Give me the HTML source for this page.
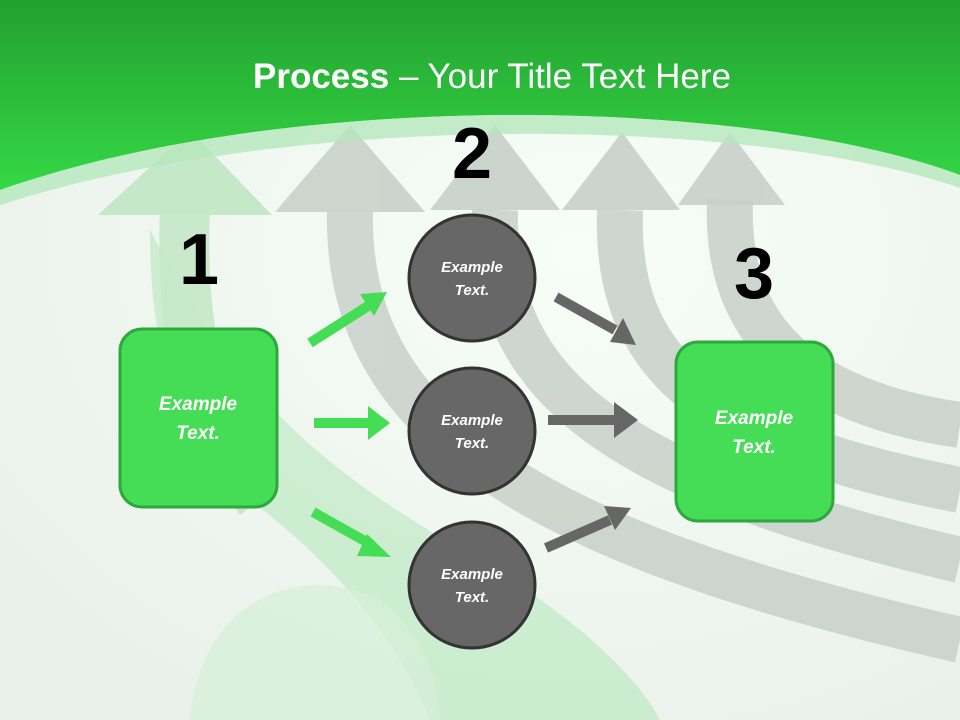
<!DOCTYPE html>
<html><head><style>body{margin:0}svg{display:block}text{font-family:"Liberation Sans",sans-serif}</style></head><body>
<svg width="960" height="720" viewBox="0 0 960 720" xmlns="http://www.w3.org/2000/svg">
<defs>
<linearGradient id="hg" x1="0" y1="0" x2="0" y2="1"><stop offset="0" stop-color="#22a030"/><stop offset="1" stop-color="#35d845"/></linearGradient>
<radialGradient id="bg" cx="0.6" cy="0.35" r="0.8"><stop offset="0" stop-color="#f7fdf7"/><stop offset="1" stop-color="#e9efe9"/></radialGradient>
</defs>
<rect width="960" height="720" fill="url(#bg)"/>
<path d="M150 230 C230 380 300 460 480 560 C580 620 640 680 660 720 L430 720 C400 640 330 560 250 500 C180 440 150 360 150 230Z" fill="#bfe9c4" opacity="0.7"/>
<path d="M190 720 C200 600 300 560 380 600 C420 630 440 680 440 720Z" fill="#d6f0d8" opacity="0.7"/>
<g fill="none" stroke="#c8d1c9" stroke-width="46" opacity="0.85">
<path d="M350 210 C345 420 520 540 960 640"/>
<path d="M495 210 C490 390 620 480 960 560"/>
<path d="M620 210 C615 360 700 440 960 490"/>
<path d="M730 200 C725 320 790 400 960 425"/>
</g>
<g fill="none" stroke="#c5e8c8" stroke-width="50" opacity="0.9">
<path d="M185 210 C180 330 200 420 260 500"/>
</g>
<g fill="#c8d1c9" opacity="0.9">
<polygon points="350,125 425,212 275,212"/>
<polygon points="495,125 560,210 430,210"/>
<polygon points="622,132 680,210 562,210"/>
<polygon points="730,132 785,205 678,205"/>
</g>
<polygon points="190,130 272,215 98,215" fill="#c5e8c8"/>
<path d="M0 0 H960 V175 C760 100 300 85 0 190Z" fill="url(#hg)"/>
<path d="M0 190 C300 85 760 100 960 175 V188 C760 118 300 108 0 205Z" fill="#b5e7bb" opacity="0.8"/>
<text x="492" y="88" text-anchor="middle" font-size="35" fill="#fff" style="font-family:'Liberation Sans Narrow','Liberation Sans',sans-serif"><tspan font-weight="bold">Process</tspan> – Your Title Text Here</text>
<text x="472" y="178" text-anchor="middle" font-size="72" font-weight="bold" fill="#000">2</text>
<text x="199" y="284" text-anchor="middle" font-size="72" font-weight="bold" fill="#000">1</text>
<text x="754" y="298" text-anchor="middle" font-size="72" font-weight="bold" fill="#000">3</text>
<rect x="120" y="329" width="157" height="178" rx="22" fill="#44dd55" stroke="#2ea83c" stroke-width="3"/>
<text x="198" y="410" text-anchor="middle" font-size="19" font-weight="bold" font-style="italic" fill="#fff">Example</text>
<text x="198" y="439" text-anchor="middle" font-size="19" font-weight="bold" font-style="italic" fill="#fff">Text.</text>
<rect x="676" y="342" width="157" height="179" rx="22" fill="#44dd55" stroke="#2ea83c" stroke-width="3"/>
<text x="754" y="424" text-anchor="middle" font-size="19" font-weight="bold" font-style="italic" fill="#fff">Example</text>
<text x="754" y="453" text-anchor="middle" font-size="19" font-weight="bold" font-style="italic" fill="#fff">Text.</text>
<g fill="#676767" stroke="#333" stroke-width="3">
<circle cx="472" cy="278" r="63"/><circle cx="472" cy="431" r="63"/><circle cx="472" cy="585" r="63"/>
</g>
<g font-size="15" font-weight="bold" font-style="italic" fill="#fff" text-anchor="middle">
<text x="472" y="272">Example</text><text x="472" y="295">Text.</text>
<text x="472" y="425">Example</text><text x="472" y="448">Text.</text>
<text x="472" y="579">Example</text><text x="472" y="602">Text.</text>
</g>
<g stroke="#44dd55" stroke-width="10" fill="#44dd55">
<line x1="310" y1="343" x2="368" y2="306"/>
<line x1="314" y1="423" x2="370" y2="423"/>
<line x1="313" y1="512" x2="372" y2="545"/>
</g>
<g fill="#44dd55">
<polygon points="387,292 360,294 374,316"/>
<polygon points="390,423 368,406 368,440"/>
<polygon points="391,557 367,534 357,556"/>
</g>
<g stroke="#666" stroke-width="10">
<line x1="556" y1="297" x2="615" y2="330"/>
<line x1="548" y1="420" x2="615" y2="420"/>
<line x1="546" y1="548" x2="610" y2="520"/>
</g>
<g fill="#666">
<polygon points="636,345 623,318 610,342"/>
<polygon points="638,420 614,402 614,438"/>
<polygon points="631,508 604,506 615,530"/>
</g>
</svg>
</body></html>
